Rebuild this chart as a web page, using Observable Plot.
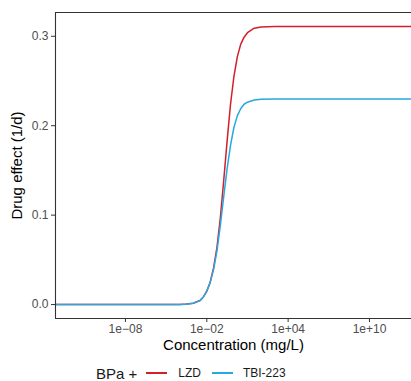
<!DOCTYPE html>
<html><head><meta charset="utf-8">
<script src="https://cdn.jsdelivr.net/npm/d3@7"></script>
<script src="https://cdn.jsdelivr.net/npm/@observablehq/plot@0.6"></script>
<style>
body{margin:0;background:#fff;font-family:"Liberation Sans",Arial,sans-serif;}
#chart{width:411px;height:381px;position:relative;overflow:hidden;background:#fff}
.legend{position:absolute;left:96px;top:365px;height:16px;display:flex;align-items:center;color:#1a1a1a;white-space:nowrap;line-height:1}
.sw{display:inline-block;width:21px;height:1.6px}
</style></head><body><div id="chart"></div>
<script>
// Concentration (mg/L)
const concentration = [1e-14,1e-9,1e-6,1e-5,1e-4,3.16e-4,1e-3,3.16e-3,5.62e-3,1e-2,1.78e-2,3.16e-2,5.62e-2,0.1,0.178,0.316,0.562,1,1.78,3.16,5.62,10,31.6,100,1000,1e6,1e14];
// Drug effect (1/d)
const lzd =    [0,0,0,0.00001,0.0001,0.0005,0.0014,0.0045,0.0085,0.015,0.025,0.041,0.064,0.097,0.139,0.183,0.224,0.255,0.277,0.291,0.299,0.304,0.309,0.3105,0.311,0.311,0.311];
const tbi223 = [0,0,0,0.00001,0.0001,0.0004,0.0014,0.0044,0.0085,0.0148,0.0245,0.039,0.060,0.0885,0.121,0.152,0.178,0.198,0.211,0.219,0.224,0.2263,0.2288,0.2296,0.230,0.230,0.230];
const seriesNames = ["LZD","TBI-223"];
const seriesColors = ["#d21f2b","#26a9e0"];
const legendTitle = "BPa +";
const xTicks = [1e-8,1e-2,1e4,1e10];
const xTickLabels = ["1e\u221208","1e\u221202","1e+04","1e+10"];
const yTicks = [0,0.1,0.2,0.3];
const yTickLabels = ["0.0","0.1","0.2","0.3"];
const xTitle = "Concentration (mg/L)";
const yTitle = "Drug effect (1/d)";
const xDomain = [Math.pow(10,-13.16), Math.pow(10,13.1)];
const yDomain = [-0.0156, 0.3266];

const rows = [];
concentration.forEach((c,i)=>{rows.push({c, v:lzd[i], s:seriesNames[0]});});
concentration.forEach((c,i)=>{rows.push({c, v:tbi223[i], s:seriesNames[1]});});

const axisColor = "#333333";
const tickFont = 12, titleFont = 15;
const plot = Plot.plot({
  width:411, height:360,
  marginLeft:55, marginRight:0, marginTop:12, marginBottom:42,
  style:{fontFamily:"Liberation Sans, Arial, sans-serif", background:"white"},
  x:{type:"log", domain:xDomain},
  y:{domain:yDomain},
  color:{domain:seriesNames, range:seriesColors},
  marks:[
    Plot.line(rows,{x:"c", y:"v", stroke:"s", z:"s", strokeWidth:1.5, clip:true}),
    Plot.ruleX([xDomain[0]],{stroke:axisColor, strokeWidth:1.1}),
    Plot.ruleY([yDomain[1]],{stroke:axisColor, strokeWidth:1.1}),
    Plot.ruleY([yDomain[0]],{stroke:axisColor, strokeWidth:1.1}),
    Plot.axisX(xTicks,{tickSize:4, tickPadding:2, stroke:axisColor, fill:"#4d4d4d", fontSize:tickFont,
      tickFormat:d=>xTickLabels[xTicks.indexOf(d)], label:null}),
    Plot.axisY(yTicks,{tickSize:4, tickPadding:3, stroke:axisColor, fill:"#4d4d4d", fontSize:tickFont,
      tickFormat:d=>yTickLabels[yTicks.indexOf(d)], label:null}),
    Plot.text([xTitle],{frameAnchor:"bottom", dy:31, fontSize:titleFont, fill:"#000"}),
    Plot.text([yTitle],{frameAnchor:"left", dx:-38, rotate:-90, textAnchor:"middle", fontSize:titleFont, fill:"#000"})
  ]
});
const chart = document.getElementById("chart");
chart.appendChild(plot);

const legend = document.createElement("div");
legend.className = "legend";
const t = document.createElement("span");
t.textContent = legendTitle;
t.style.fontSize = titleFont + "px";
legend.appendChild(t);
seriesNames.forEach((n,i)=>{
  const sw = document.createElement("span");
  sw.className = "sw";
  sw.style.background = seriesColors[i];
  sw.style.marginLeft = i===0 ? "9px" : "11px";
  legend.appendChild(sw);
  const lab = document.createElement("span");
  lab.textContent = n;
  lab.style.fontSize = tickFont + "px";
  lab.style.marginLeft = i===0 ? "11px" : "10px";
  legend.appendChild(lab);
});
chart.appendChild(legend);
</script></body></html>
